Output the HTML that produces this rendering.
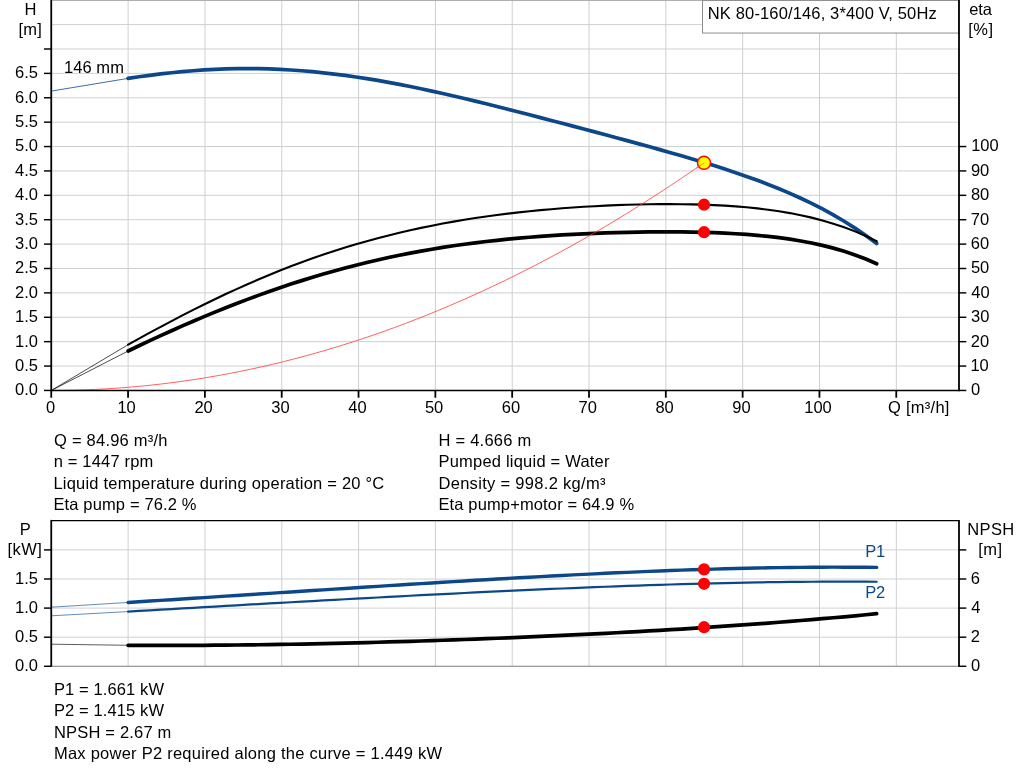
<!DOCTYPE html><html><head><meta charset="utf-8"><title>NK 80-160/146</title>
<style>html,body{margin:0;padding:0;background:#fff}svg{display:block}text{font-family:"Liberation Sans",Arial,sans-serif;font-size:16.5px;fill:#000}.b{fill:#0c4889}</style></head><body>
<svg width="1024" height="781" viewBox="0 0 1024 781">
<rect width="1024" height="781" fill="#fff"/>
<g stroke="#cdd0d3" stroke-width="1.0">
<line x1="52" x2="958" y1="366.06" y2="366.06"/>
<line x1="52" x2="958" y1="341.67" y2="341.67"/>
<line x1="52" x2="958" y1="317.28" y2="317.28"/>
<line x1="52" x2="958" y1="292.89" y2="292.89"/>
<line x1="52" x2="958" y1="268.50" y2="268.50"/>
<line x1="52" x2="958" y1="244.11" y2="244.11"/>
<line x1="52" x2="958" y1="219.72" y2="219.72"/>
<line x1="52" x2="958" y1="195.33" y2="195.33"/>
<line x1="52" x2="958" y1="170.94" y2="170.94"/>
<line x1="52" x2="958" y1="146.55" y2="146.55"/>
<line x1="52" x2="958" y1="122.16" y2="122.16"/>
<line x1="52" x2="958" y1="97.77" y2="97.77"/>
<line x1="52" x2="958" y1="73.38" y2="73.38"/>
<line x1="52" x2="958" y1="48.99" y2="48.99"/>
<line x1="52" x2="958" y1="24.60" y2="24.60"/>
<line x1="128.12" x2="128.12" y1="1" y2="390"/>
<line x1="204.94" x2="204.94" y1="1" y2="390"/>
<line x1="281.76" x2="281.76" y1="1" y2="390"/>
<line x1="358.58" x2="358.58" y1="1" y2="390"/>
<line x1="435.40" x2="435.40" y1="1" y2="390"/>
<line x1="512.22" x2="512.22" y1="1" y2="390"/>
<line x1="589.04" x2="589.04" y1="1" y2="390"/>
<line x1="665.86" x2="665.86" y1="1" y2="390"/>
<line x1="742.68" x2="742.68" y1="1" y2="390"/>
<line x1="819.50" x2="819.50" y1="1" y2="390"/>
<line x1="896.32" x2="896.32" y1="1" y2="390"/>
</g>
<rect x="52" y="0" width="907" height="0.9" fill="#a6a6a6"/>
<path d="M51.30 91.10 L128.12 78.37" fill="none" stroke="#0c4889" stroke-width="0.8"/>
<path d="M128.12 78.37 L138.97 76.79 L149.82 75.31 L160.67 73.96 L171.52 72.74 L182.36 71.66 L193.21 70.74 L204.06 69.97 L214.91 69.37 L225.76 68.94 L236.61 68.68 L247.46 68.59 L258.31 68.68 L269.16 68.94 L280.01 69.38 L290.85 69.98 L301.70 70.76 L312.55 71.70 L323.40 72.79 L334.25 74.04 L345.10 75.44 L355.95 76.98 L366.80 78.65 L377.65 80.45 L388.50 82.38 L399.34 84.41 L410.19 86.55 L421.04 88.79 L431.89 91.11 L442.74 93.52 L453.59 95.99 L464.44 98.54 L475.29 101.14 L486.14 103.79 L496.99 106.49 L507.83 109.22 L518.68 111.99 L529.53 114.78 L540.38 117.59 L551.23 120.43 L562.08 123.28 L572.93 126.14 L583.78 129.02 L594.63 131.90 L605.48 134.80 L616.32 137.72 L627.17 140.65 L638.02 143.61 L648.87 146.59 L659.72 149.61 L670.57 152.67 L681.42 155.78 L692.27 158.97 L703.12 162.23 L713.97 165.58 L724.81 169.04 L735.66 172.64 L746.51 176.38 L757.36 180.30 L768.21 184.41 L779.06 188.75 L789.91 193.34 L800.76 198.22 L811.61 203.41 L822.46 208.96 L833.30 214.90 L844.15 221.27 L855.00 228.12 L865.85 235.49 L876.70 243.43" fill="none" stroke="#0c4889" stroke-width="3.7" stroke-linecap="round"/>
<path d="M51.30 390.45 L128.12 344.70" fill="none" stroke="#000" stroke-width="0.7"/>
<path d="M128.12 344.70 L138.97 338.65 L149.82 332.69 L160.67 326.82 L171.52 321.06 L182.36 315.42 L193.21 309.89 L204.06 304.48 L214.91 299.21 L225.76 294.07 L236.61 289.08 L247.46 284.23 L258.31 279.53 L269.16 274.98 L280.01 270.59 L290.85 266.35 L301.70 262.27 L312.55 258.36 L323.40 254.60 L334.25 251.01 L345.10 247.58 L355.95 244.30 L366.80 241.19 L377.65 238.22 L388.50 235.42 L399.34 232.76 L410.19 230.25 L421.04 227.88 L431.89 225.66 L442.74 223.57 L453.59 221.61 L464.44 219.78 L475.29 218.07 L486.14 216.49 L496.99 215.01 L507.83 213.65 L518.68 212.38 L529.53 211.22 L540.38 210.16 L551.23 209.19 L562.08 208.31 L572.93 207.52 L583.78 206.81 L594.63 206.18 L605.48 205.63 L616.32 205.17 L627.17 204.78 L638.02 204.48 L648.87 204.27 L659.72 204.15 L670.57 204.12 L681.42 204.19 L692.27 204.37 L703.12 204.67 L713.97 205.10 L724.81 205.67 L735.66 206.40 L746.51 207.31 L757.36 208.40 L768.21 209.72 L779.06 211.27 L789.91 213.09 L800.76 215.20 L811.61 217.63 L822.46 220.43 L833.30 223.63 L844.15 227.27 L855.00 231.39 L865.85 236.05 L876.70 241.29" fill="none" stroke="#000" stroke-width="2.1" stroke-linecap="round"/>
<path d="M51.30 390.45 L128.12 351.02" fill="none" stroke="#000" stroke-width="0.7"/>
<path d="M128.12 351.02 L138.97 345.79 L149.82 340.66 L160.67 335.64 L171.52 330.72 L182.36 325.91 L193.21 321.20 L204.06 316.61 L214.91 312.12 L225.76 307.75 L236.61 303.50 L247.46 299.37 L258.31 295.37 L269.16 291.49 L280.01 287.73 L290.85 284.11 L301.70 280.62 L312.55 277.26 L323.40 274.04 L334.25 270.95 L345.10 268.00 L355.95 265.19 L366.80 262.51 L377.65 259.96 L388.50 257.55 L399.34 255.28 L410.19 253.13 L421.04 251.11 L431.89 249.22 L442.74 247.44 L453.59 245.79 L464.44 244.25 L475.29 242.83 L486.14 241.51 L496.99 240.30 L507.83 239.18 L518.68 238.16 L529.53 237.23 L540.38 236.39 L551.23 235.63 L562.08 234.94 L572.93 234.33 L583.78 233.80 L594.63 233.33 L605.48 232.92 L616.32 232.59 L627.17 232.31 L638.02 232.10 L648.87 231.96 L659.72 231.89 L670.57 231.88 L681.42 231.95 L692.27 232.11 L703.12 232.36 L713.97 232.70 L724.81 233.16 L735.66 233.74 L746.51 234.47 L757.36 235.35 L768.21 236.42 L779.06 237.69 L789.91 239.19 L800.76 240.95 L811.61 243.00 L822.46 245.38 L833.30 248.13 L844.15 251.29 L855.00 254.92 L865.85 259.05 L876.70 263.76" fill="none" stroke="#000" stroke-width="3.7" stroke-linecap="round"/>
<path d="M51.30 390.45 L62.36 390.38 L73.42 390.19 L84.49 389.86 L95.55 389.40 L106.61 388.82 L117.67 388.10 L128.73 387.25 L139.80 386.27 L150.86 385.15 L161.92 383.91 L172.98 382.54 L184.04 381.03 L195.11 379.40 L206.17 377.63 L217.23 375.74 L228.29 373.71 L239.36 371.55 L250.42 369.27 L261.48 366.85 L272.54 364.30 L283.60 361.61 L294.67 358.80 L305.73 355.86 L316.79 352.79 L327.85 349.58 L338.91 346.25 L349.98 342.78 L361.04 339.19 L372.10 335.46 L383.16 331.60 L394.22 327.61 L405.29 323.50 L416.35 319.25 L427.41 314.86 L438.47 310.35 L449.53 305.71 L460.60 300.94 L471.66 296.03 L482.72 291.00 L493.78 285.83 L504.85 280.54 L515.91 275.11 L526.97 269.55 L538.03 263.86 L549.09 258.04 L560.16 252.09 L571.22 246.01 L582.28 239.80 L593.34 233.46 L604.40 226.99 L615.47 220.38 L626.53 213.65 L637.59 206.78 L648.65 199.79 L659.71 192.66 L670.78 185.40 L681.84 178.01 L692.90 170.49 L703.96 162.84" fill="none" stroke="#ff3a3a" stroke-width="0.8"/>
<circle cx="704.0" cy="162.85" r="6.5" fill="#ffff00" stroke="#ff0000" stroke-width="1.5"/>
<path d="M696 168.3 L704.2 162.9" stroke="#ff3a3a" stroke-width="0.8" stroke-opacity="0.7" fill="none"/>
<circle cx="704.05" cy="204.7" r="6.1" fill="#ff0000"/>
<circle cx="704.05" cy="232.2" r="6.1" fill="#ff0000"/>
<rect x="702.5" y="0.45" width="256" height="32.6" fill="#fff" stroke="#8c8c8c" stroke-width="1"/>
<g stroke="#000" fill="none">
<line x1="51.25" x2="51.25" y1="0" y2="391.35" stroke-width="1.80"/>
<line x1="959.00" x2="959.00" y1="0" y2="391.35" stroke-width="1.80"/>
<line x1="51.25" x2="959.00" y1="390.45" y2="390.45" stroke-width="1.45"/>
<g stroke-width="1.45">
<line x1="44" x2="51.25" y1="390.45" y2="390.45"/>
<line x1="44" x2="51.25" y1="366.06" y2="366.06"/>
<line x1="44" x2="51.25" y1="341.67" y2="341.67"/>
<line x1="44" x2="51.25" y1="317.28" y2="317.28"/>
<line x1="44" x2="51.25" y1="292.89" y2="292.89"/>
<line x1="44" x2="51.25" y1="268.50" y2="268.50"/>
<line x1="44" x2="51.25" y1="244.11" y2="244.11"/>
<line x1="44" x2="51.25" y1="219.72" y2="219.72"/>
<line x1="44" x2="51.25" y1="195.33" y2="195.33"/>
<line x1="44" x2="51.25" y1="170.94" y2="170.94"/>
<line x1="44" x2="51.25" y1="146.55" y2="146.55"/>
<line x1="44" x2="51.25" y1="122.16" y2="122.16"/>
<line x1="44" x2="51.25" y1="97.77" y2="97.77"/>
<line x1="44" x2="51.25" y1="73.38" y2="73.38"/>
<line x1="44" x2="51.25" y1="48.99" y2="48.99"/>
<line x1="959.00" x2="966.3" y1="390.45" y2="390.45"/>
<line x1="959.00" x2="966.3" y1="366.06" y2="366.06"/>
<line x1="959.00" x2="966.3" y1="341.67" y2="341.67"/>
<line x1="959.00" x2="966.3" y1="317.28" y2="317.28"/>
<line x1="959.00" x2="966.3" y1="292.89" y2="292.89"/>
<line x1="959.00" x2="966.3" y1="268.50" y2="268.50"/>
<line x1="959.00" x2="966.3" y1="244.11" y2="244.11"/>
<line x1="959.00" x2="966.3" y1="219.72" y2="219.72"/>
<line x1="959.00" x2="966.3" y1="195.33" y2="195.33"/>
<line x1="959.00" x2="966.3" y1="170.94" y2="170.94"/>
<line x1="959.00" x2="966.3" y1="146.55" y2="146.55"/>
</g><g stroke-width="1.80">
<line x1="51.25" x2="51.25" y1="390.45" y2="397.7"/>
<line x1="128.07" x2="128.07" y1="390.45" y2="397.7"/>
<line x1="204.89" x2="204.89" y1="390.45" y2="397.7"/>
<line x1="281.71" x2="281.71" y1="390.45" y2="397.7"/>
<line x1="358.53" x2="358.53" y1="390.45" y2="397.7"/>
<line x1="435.35" x2="435.35" y1="390.45" y2="397.7"/>
<line x1="512.17" x2="512.17" y1="390.45" y2="397.7"/>
<line x1="588.99" x2="588.99" y1="390.45" y2="397.7"/>
<line x1="665.81" x2="665.81" y1="390.45" y2="397.7"/>
<line x1="742.63" x2="742.63" y1="390.45" y2="397.7"/>
<line x1="819.45" x2="819.45" y1="390.45" y2="397.7"/>
<line x1="896.27" x2="896.27" y1="390.45" y2="397.7"/>
</g></g>
<g stroke="#cdd0d3" stroke-width="1.0">
<line x1="52" x2="958" y1="637.20" y2="637.20"/>
<line x1="52" x2="958" y1="608.10" y2="608.10"/>
<line x1="52" x2="958" y1="579.00" y2="579.00"/>
<line x1="52" x2="958" y1="549.90" y2="549.90"/>
<line x1="128.12" x2="128.12" y1="521" y2="666"/>
<line x1="204.94" x2="204.94" y1="521" y2="666"/>
<line x1="281.76" x2="281.76" y1="521" y2="666"/>
<line x1="358.58" x2="358.58" y1="521" y2="666"/>
<line x1="435.40" x2="435.40" y1="521" y2="666"/>
<line x1="512.22" x2="512.22" y1="521" y2="666"/>
<line x1="589.04" x2="589.04" y1="521" y2="666"/>
<line x1="665.86" x2="665.86" y1="521" y2="666"/>
<line x1="742.68" x2="742.68" y1="521" y2="666"/>
<line x1="819.50" x2="819.50" y1="521" y2="666"/>
<line x1="896.32" x2="896.32" y1="521" y2="666"/>
</g>
<line x1="52" x2="959.00" y1="666.30" y2="666.30" stroke="#7d7d7d" stroke-width="1.1"/>
<path d="M51.30 607.20 L128.12 602.46" fill="none" stroke="#0c4889" stroke-width="0.8" stroke-opacity="0.8"/>
<path d="M128.12 602.46 L138.97 601.77 L149.82 601.07 L160.67 600.38 L171.52 599.68 L182.36 598.98 L193.21 598.28 L204.06 597.58 L214.91 596.88 L225.76 596.17 L236.61 595.47 L247.46 594.76 L258.31 594.06 L269.16 593.35 L280.01 592.64 L290.85 591.94 L301.70 591.23 L312.55 590.53 L323.40 589.83 L334.25 589.13 L345.10 588.43 L355.95 587.73 L366.80 587.04 L377.65 586.34 L388.50 585.66 L399.34 584.97 L410.19 584.29 L421.04 583.61 L431.89 582.94 L442.74 582.28 L453.59 581.62 L464.44 580.97 L475.29 580.32 L486.14 579.68 L496.99 579.05 L507.83 578.43 L518.68 577.82 L529.53 577.22 L540.38 576.62 L551.23 576.04 L562.08 575.47 L572.93 574.91 L583.78 574.37 L594.63 573.84 L605.48 573.32 L616.32 572.82 L627.17 572.34 L638.02 571.87 L648.87 571.41 L659.72 570.98 L670.57 570.56 L681.42 570.17 L692.27 569.79 L703.12 569.44 L713.97 569.11 L724.81 568.80 L735.66 568.51 L746.51 568.25 L757.36 568.02 L768.21 567.81 L779.06 567.63 L789.91 567.48 L800.76 567.35 L811.61 567.26 L822.46 567.20 L833.30 567.17 L844.15 567.18 L855.00 567.22 L865.85 567.29 L876.70 567.40" fill="none" stroke="#0c4889" stroke-width="3.4" stroke-linecap="round"/>
<path d="M51.30 615.80 L128.12 611.58" fill="none" stroke="#0c4889" stroke-width="0.8" stroke-opacity="0.8"/>
<path d="M128.12 611.58 L138.97 610.95 L149.82 610.32 L160.67 609.69 L171.52 609.06 L182.36 608.43 L193.21 607.81 L204.06 607.18 L214.91 606.56 L225.76 605.94 L236.61 605.32 L247.46 604.70 L258.31 604.09 L269.16 603.47 L280.01 602.86 L290.85 602.25 L301.70 601.65 L312.55 601.04 L323.40 600.44 L334.25 599.85 L345.10 599.25 L355.95 598.66 L366.80 598.08 L377.65 597.49 L388.50 596.92 L399.34 596.34 L410.19 595.77 L421.04 595.21 L431.89 594.65 L442.74 594.10 L453.59 593.55 L464.44 593.01 L475.29 592.47 L486.14 591.95 L496.99 591.43 L507.83 590.92 L518.68 590.41 L529.53 589.92 L540.38 589.43 L551.23 588.96 L562.08 588.49 L572.93 588.04 L583.78 587.59 L594.63 587.16 L605.48 586.73 L616.32 586.33 L627.17 585.93 L638.02 585.55 L648.87 585.18 L659.72 584.82 L670.57 584.48 L681.42 584.16 L692.27 583.85 L703.12 583.56 L713.97 583.29 L724.81 583.03 L735.66 582.80 L746.51 582.58 L757.36 582.38 L768.21 582.21 L779.06 582.05 L789.91 581.92 L800.76 581.81 L811.61 581.73 L822.46 581.67 L833.30 581.63 L844.15 581.62 L855.00 581.64 L865.85 581.68 L876.70 581.75" fill="none" stroke="#0c4889" stroke-width="2.2" stroke-linecap="round"/>
<path d="M51.30 644.20 L128.12 645.29" fill="none" stroke="#000" stroke-width="0.8" stroke-opacity="0.8"/>
<path d="M128.12 645.29 L138.97 645.35 L149.82 645.39 L160.67 645.41 L171.52 645.41 L182.36 645.39 L193.21 645.35 L204.06 645.29 L214.91 645.21 L225.76 645.12 L236.61 645.01 L247.46 644.89 L258.31 644.75 L269.16 644.60 L280.01 644.43 L290.85 644.24 L301.70 644.04 L312.55 643.83 L323.40 643.60 L334.25 643.36 L345.10 643.11 L355.95 642.84 L366.80 642.56 L377.65 642.27 L388.50 641.97 L399.34 641.65 L410.19 641.32 L421.04 640.98 L431.89 640.63 L442.74 640.27 L453.59 639.89 L464.44 639.50 L475.29 639.10 L486.14 638.69 L496.99 638.26 L507.83 637.83 L518.68 637.38 L529.53 636.91 L540.38 636.44 L551.23 635.95 L562.08 635.45 L572.93 634.94 L583.78 634.41 L594.63 633.87 L605.48 633.32 L616.32 632.75 L627.17 632.17 L638.02 631.57 L648.87 630.96 L659.72 630.33 L670.57 629.69 L681.42 629.03 L692.27 628.35 L703.12 627.65 L713.97 626.94 L724.81 626.21 L735.66 625.46 L746.51 624.69 L757.36 623.90 L768.21 623.09 L779.06 622.26 L789.91 621.40 L800.76 620.53 L811.61 619.63 L822.46 618.71 L833.30 617.76 L844.15 616.79 L855.00 615.79 L865.85 614.76 L876.70 613.71" fill="none" stroke="#000" stroke-width="3.7" stroke-linecap="round"/>
<circle cx="704.05" cy="569.4" r="6.1" fill="#ff0000"/>
<circle cx="704.05" cy="583.8" r="6.1" fill="#ff0000"/>
<circle cx="704.05" cy="627.2" r="6.1" fill="#ff0000"/>
<g stroke="#000" fill="none">
<line x1="51.25" x2="51.25" y1="519.90" y2="666.80" stroke-width="1.80"/>
<line x1="959.00" x2="959.00" y1="519.90" y2="666.80" stroke-width="1.80"/>
<line x1="51.25" x2="959.00" y1="520.55" y2="520.55" stroke-width="1.3"/>
<g stroke-width="1.45">
<line x1="44" x2="51.25" y1="666.30" y2="666.30"/>
<line x1="959.00" x2="966.3" y1="666.30" y2="666.30"/>
<line x1="44" x2="51.25" y1="637.20" y2="637.20"/>
<line x1="959.00" x2="966.3" y1="637.20" y2="637.20"/>
<line x1="44" x2="51.25" y1="608.10" y2="608.10"/>
<line x1="959.00" x2="966.3" y1="608.10" y2="608.10"/>
<line x1="44" x2="51.25" y1="579.00" y2="579.00"/>
<line x1="959.00" x2="966.3" y1="579.00" y2="579.00"/>
<line x1="44" x2="51.25" y1="549.90" y2="549.90"/>
<line x1="959.00" x2="966.3" y1="549.90" y2="549.90"/>
</g></g>
<text x="15.05" y="395.00">0.0</text>
<text x="15.05" y="371.00">0.5</text>
<text x="15.05" y="347.00">1.0</text>
<text x="15.05" y="322.00">1.5</text>
<text x="15.05" y="298.00">2.0</text>
<text x="15.05" y="273.00">2.5</text>
<text x="15.05" y="249.00">3.0</text>
<text x="15.05" y="225.00">3.5</text>
<text x="15.05" y="200.00">4.0</text>
<text x="15.05" y="176.00">4.5</text>
<text x="15.05" y="151.00">5.0</text>
<text x="15.05" y="127.00">5.5</text>
<text x="15.05" y="103.00">6.0</text>
<text x="15.05" y="78.00">6.5</text>
<text x="971.07" y="395.00">0</text>
<text x="970.45" y="371.00">10</text>
<text x="970.82" y="347.00">20</text>
<text x="971.07" y="322.00">30</text>
<text x="971.32" y="298.00">40</text>
<text x="970.95" y="273.00">50</text>
<text x="970.82" y="249.00">60</text>
<text x="970.82" y="225.00">70</text>
<text x="970.95" y="200.00">80</text>
<text x="970.95" y="176.00">90</text>
<text x="971.15" y="151.00">100</text>
<text x="46.04" y="413.00">0</text>
<text x="117.42" y="413.00">10</text>
<text x="194.43" y="413.00">20</text>
<text x="271.37" y="413.00">30</text>
<text x="348.32" y="413.00">40</text>
<text x="424.95" y="413.00">50</text>
<text x="501.71" y="413.00">60</text>
<text x="578.53" y="413.00">70</text>
<text x="655.41" y="413.00">80</text>
<text x="732.23" y="413.00">90</text>
<text x="804.24" y="413.00">100</text>
<text x="888.05" y="413.00" style="letter-spacing:0.254px">Q [m³/h]</text>
<text x="24.53" y="15.20">H</text>
<text x="18.57" y="35.20" style="letter-spacing:0.188px">[m]</text>
<text x="969.30" y="15.30" style="letter-spacing:-0.113px">eta</text>
<text x="968.27" y="35.20" style="letter-spacing:0.500px">[%]</text>
<text x="64.05" y="72.60" style="letter-spacing:0.050px">146 mm</text>
<text x="707.82" y="19.00" style="letter-spacing:0.142px">NK 80-160/146, 3*400 V, 50Hz</text>
<text x="54.05" y="446.00" style="letter-spacing:0.223px">Q = 84.96 m³/h</text>
<text x="438.43" y="446.00" style="letter-spacing:0.253px">H = 4.666 m</text>
<text x="53.67" y="467.00" style="letter-spacing:0.173px">n = 1447 rpm</text>
<text x="438.43" y="467.00" style="letter-spacing:0.214px">Pumped liquid = Water</text>
<text x="53.42" y="489.00" style="letter-spacing:0.218px">Liquid temperature during operation = 20 °C</text>
<text x="438.43" y="489.00" style="letter-spacing:0.308px">Density = 998.2 kg/m³</text>
<text x="53.42" y="510.00" style="letter-spacing:0.142px">Eta pump = 76.2 %</text>
<text x="438.43" y="510.00" style="letter-spacing:0.138px">Eta pump+motor = 64.9 %</text>
<text x="15.05" y="671.00">0.0</text>
<text x="971.07" y="671.00">0</text>
<text x="15.05" y="642.00">0.5</text>
<text x="970.82" y="642.00">2</text>
<text x="15.05" y="613.00">1.0</text>
<text x="971.32" y="613.00">4</text>
<text x="15.05" y="584.00">1.5</text>
<text x="970.82" y="584.00">6</text>
<text x="19.73" y="534.70">P</text>
<text x="7.38" y="555.00" style="letter-spacing:0.500px">[kW]</text>
<text x="967.32" y="534.70" style="letter-spacing:0.358px">NPSH</text>
<text x="978.27" y="555.00" style="letter-spacing:0.487px">[m]</text>
<text x="865.32" y="557.00" style="letter-spacing:-0.300px" class="b">P1</text>
<text x="865.32" y="598.00" style="letter-spacing:-0.300px" class="b">P2</text>
<text x="53.92" y="695.00" style="letter-spacing:0.117px">P1 = 1.661 kW</text>
<text x="53.92" y="716.00" style="letter-spacing:0.117px">P2 = 1.415 kW</text>
<text x="53.92" y="738.00" style="letter-spacing:0.190px">NPSH = 2.67 m</text>
<text x="53.92" y="759.00" style="letter-spacing:0.247px">Max power P2 required along the curve = 1.449 kW</text>
</svg></body></html>
